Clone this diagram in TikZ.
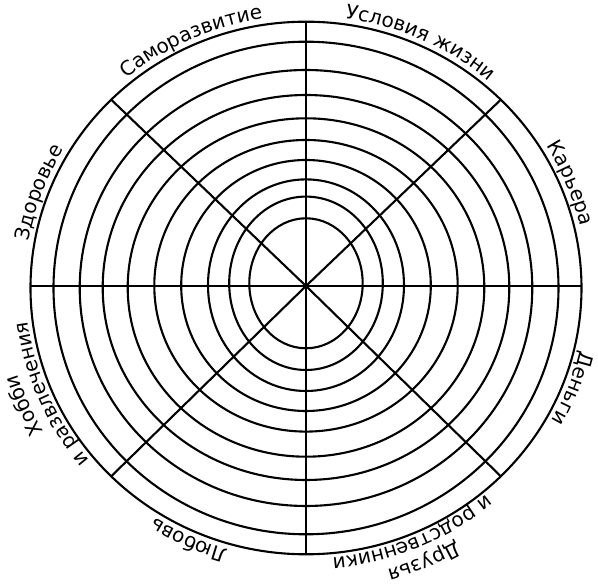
\documentclass[tikz,border=0pt]{standalone}
\usepackage{fontspec}
\setmainfont{DejaVu Sans}
\usetikzlibrary{calc,decorations.text}
\newcommand{\labfont}{\fontsize{20}{24}\selectfont}
\tikzset{
    ring/.style={line width=2.1pt},
    spoke/.style={line width=2.1pt},
    lab/.style={decorate, decoration={text along path, text align=center, text={|\labfont|#1}}}
}
\begin{document}
\begin{tikzpicture}[x=1pt,y=1pt]
        \useasboundingbox (-306,-299) rectangle (292,286);
        \coordinate (c) at (0,0);
        \coordinate (oc) at (0,-2);
        % rings: x radius / y radius / shift of centre
        \foreach \a/\b/\dy in {56.7/65/2.7, 76.8/86.7/2.7, 98/105.8/0.8, 124.8/125.5/0.5, 151.7/145.8/0.2,
                178.3/169.2/-1.5, 203.3/192.5/-1.5, 226.3/218/-2, 252.5/246.3/-2, 275.5/266.3/-2}
            \draw[ring] (0,\dy) ellipse [x radius=\a, y radius=\b];
        \coordinate (E) at (275.5,0);
        \coordinate (W) at (-275.5,0);
        \coordinate (N) at ($(oc)+(90:275.5 and 266.3)$);
        \coordinate (S) at ($(oc)+(270:275.5 and 266.3)$);
        \coordinate (NE) at ($(oc)+(45:275.5 and 266.3)$);
        \coordinate (NW) at ($(oc)+(135:275.5 and 266.3)$);
        \coordinate (SW) at ($(oc)+(225:275.5 and 266.3)$);
        \coordinate (SE) at ($(oc)+(315:275.5 and 266.3)$);
        \foreach \p in {N,NE,E,SE,S,SW,W,NW}
            \draw[spoke] (c) -- (\p);
        % labels round the rim, read clockwise
        \path[lab={Карьера}] ($(oc)+(62:281.5 and 272.3)$) arc[start angle=62, end angle=-18, x radius=281.5, y radius=272.3];
        \path[lab={Условия жизни}] ($(oc)+(105.5:281.5 and 272.3)$) arc[start angle=105.5, end angle=25.5, x radius=281.5, y radius=272.3];
        \path[lab={Саморазвитие}] ($(oc)+(154.5:281.5 and 272.3)$) arc[start angle=154.5, end angle=74.5, x radius=281.5, y radius=272.3];
        \path[lab={Здоровье}] ($(oc)+(200:281.5 and 272.3)$) arc[start angle=200, end angle=120, x radius=281.5, y radius=272.3];
        \path[lab={Хобби}] ($(oc)+(243:301.5 and 292.3)$) arc[start angle=243, end angle=163, x radius=301.5, y radius=292.3];
        \path[lab={и развлечения}] ($(oc)+(243:280 and 270.8)$) arc[start angle=243, end angle=163, x radius=280, y radius=270.8];
        \path[lab={Любовь}] ($(oc)+(285.5:281.5 and 272.3)$) arc[start angle=285.5, end angle=205.5, x radius=281.5, y radius=272.3];
        \path[lab={Друзья}] ($(oc)+(333:301.5 and 292.3)$) arc[start angle=333, end angle=253, x radius=301.5, y radius=292.3];
        \path[lab={и родственники}] ($(oc)+(333:280 and 270.8)$) arc[start angle=333, end angle=253, x radius=280, y radius=270.8];
        \path[lab={Деньги}] ($(oc)+(19:281.5 and 272.3)$) arc[start angle=19, end angle=-61, x radius=281.5, y radius=272.3];
\end{tikzpicture}
\end{document}
